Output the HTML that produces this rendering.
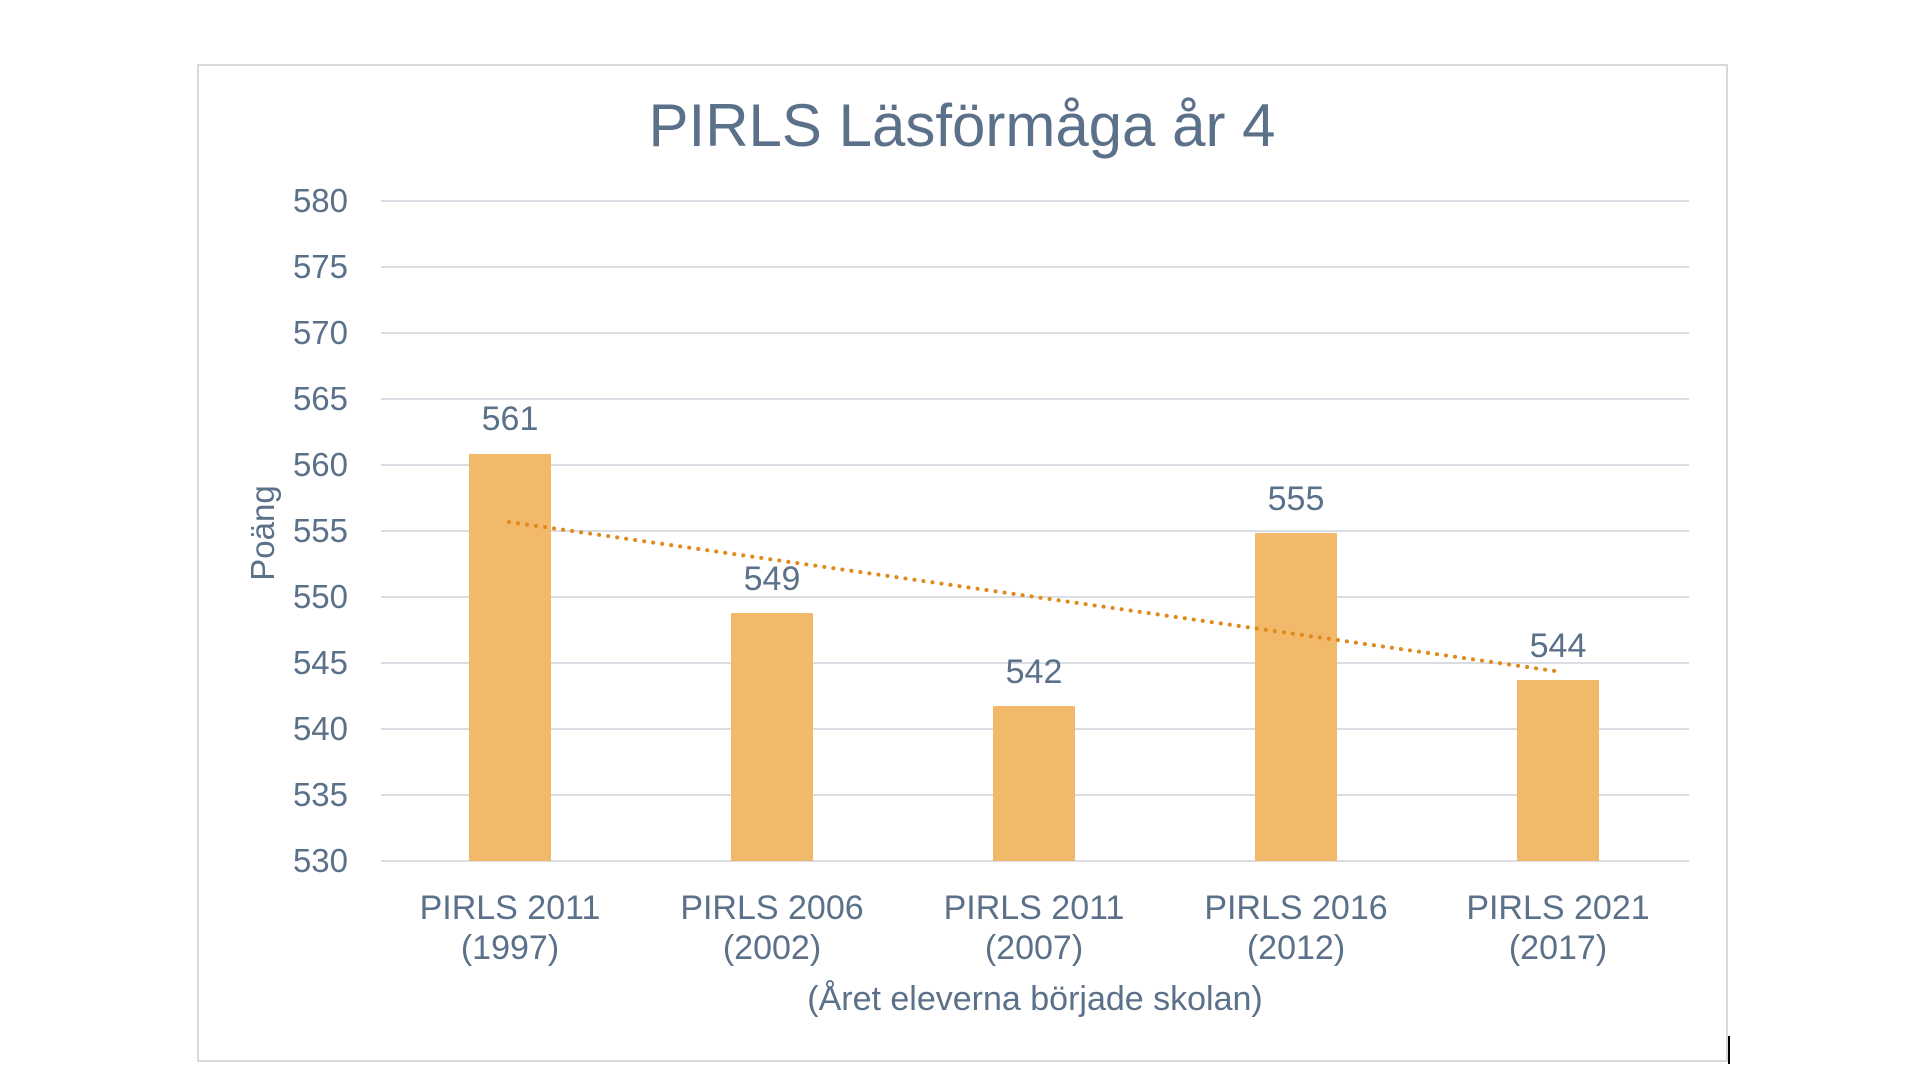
<!DOCTYPE html>
<html><head><meta charset="utf-8"><style>
html,body{margin:0;padding:0;background:#fff;}
svg{display:block;}
text{font-family:"Liberation Sans",sans-serif;fill:#5B7089;}
</style></head><body>
<svg width="1920" height="1079" viewBox="0 0 1920 1079">
<rect x="198" y="65" width="1529" height="996" fill="#fff" stroke="#d9d9d9" stroke-width="2"/>
<line x1="1729" y1="1036" x2="1729" y2="1064" stroke="#000" stroke-width="2"/>
<text x="962" y="146" font-size="60" text-anchor="middle">PIRLS Läsförmåga år 4</text>
<g stroke="#D9DEE5" stroke-width="2">
<line x1="381" y1="201" x2="1689" y2="201"/>
<line x1="381" y1="267" x2="1689" y2="267"/>
<line x1="381" y1="333" x2="1689" y2="333"/>
<line x1="381" y1="399" x2="1689" y2="399"/>
<line x1="381" y1="465" x2="1689" y2="465"/>
<line x1="381" y1="531" x2="1689" y2="531"/>
<line x1="381" y1="597" x2="1689" y2="597"/>
<line x1="381" y1="663" x2="1689" y2="663"/>
<line x1="381" y1="729" x2="1689" y2="729"/>
<line x1="381" y1="795" x2="1689" y2="795"/>
<line x1="381" y1="861" x2="1689" y2="861"/>
</g>
<g font-size="33" text-anchor="end">
<text x="348" y="212">580</text><text x="348" y="278">575</text><text x="348" y="344">570</text>
<text x="348" y="410">565</text><text x="348" y="476">560</text><text x="348" y="542">555</text>
<text x="348" y="608">550</text><text x="348" y="674">545</text><text x="348" y="740">540</text>
<text x="348" y="806">535</text><text x="348" y="872">530</text>
</g>
<text transform="translate(274,533) rotate(-90)" font-size="33" text-anchor="middle">Poäng</text>
<g fill="#F2B96B">
<rect x="469" y="454" width="82" height="407"/>
<rect x="731" y="613" width="82" height="248"/>
<rect x="993" y="706" width="82" height="155"/>
<rect x="1255" y="533" width="82" height="328"/>
<rect x="1517" y="680" width="82" height="181"/>
</g>
<line x1="509" y1="522" x2="1555" y2="671" stroke="#E0891C" stroke-width="4" stroke-dasharray="0.1 9" stroke-linecap="round"/>
<g font-size="34" text-anchor="middle">
<text x="510" y="430">561</text><text x="772" y="590">549</text><text x="1034" y="683">542</text>
<text x="1296" y="510">555</text><text x="1558" y="657">544</text>
<text x="510" y="919">PIRLS 2011</text><text x="510" y="959">(1997)</text>
<text x="772" y="919">PIRLS 2006</text><text x="772" y="959">(2002)</text>
<text x="1034" y="919">PIRLS 2011</text><text x="1034" y="959">(2007)</text>
<text x="1296" y="919">PIRLS 2016</text><text x="1296" y="959">(2012)</text>
<text x="1558" y="919">PIRLS 2021</text><text x="1558" y="959">(2017)</text>
<text x="1035" y="1010">(Året eleverna började skolan)</text>
</g>
</svg>
</body></html>
